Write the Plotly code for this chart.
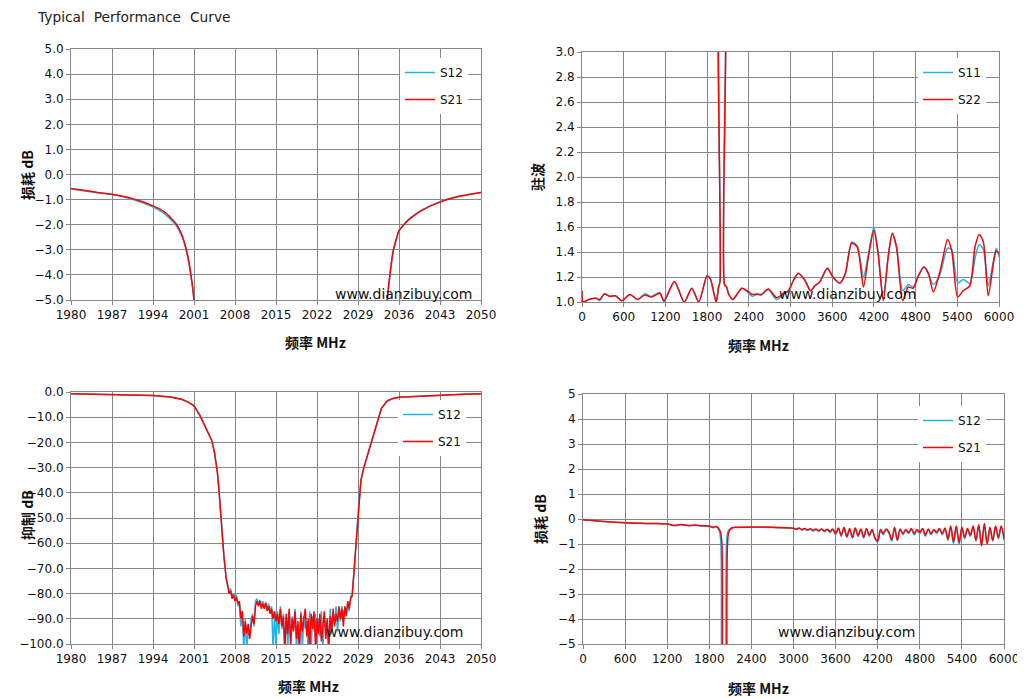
# %%
import plotly.graph_objects as go

# ---- top left: 损耗 near stop band (1980-2050 MHz) ----
tl_freq = [1980, 1983, 1987, 1990, 1994, 1996, 1998, 1999, 1999.5, 2000, 2000.5, 2001, 2001.3,
           None,
           2033.8, 2034, 2034.5, 2035, 2035.5, 2036, 2037, 2038, 2040, 2043, 2046, 2050]
tl_s12 = [-0.58, -0.68, -0.80, -0.96, -1.30, -1.57, -2.05, -2.50, -2.87, -3.37, -4.08, -5.0, -6.5,
          None,
          -6.5, -5.0, -3.92, -3.08, -2.62, -2.24, -1.94, -1.72, -1.40, -1.08, -0.88, -0.72]
tl_s21 = [-0.56, -0.66, -0.79, -0.93, -1.25, -1.50, -1.98, -2.45, -2.82, -3.32, -4.03, -5.0, -6.5,
          None,
          -6.5, -5.0, -3.90, -3.05, -2.60, -2.25, -1.96, -1.74, -1.42, -1.10, -0.89, -0.72]

# ---- top right: 驻波 0-6000 MHz ----
tr_freq = [0, 15, 100, 200, 255, 320, 400, 480, 570, 690, 800, 900, 1000, 1120, 1180, 1330, 1470,
           1580, 1680, 1800, 1850, 1930, 1965, 1985, 1997, 2040, 2050, 2080, 2110, 2170, 2300, 2400,
           2450, 2520, 2580, 2680, 2800, 2900, 2970, 3040, 3110, 3200, 3290, 3350, 3420, 3530, 3610,
           3710, 3790, 3880, 3960, 4050, 4120, 4200, 4260, 4335, 4405, 4465, 4525, 4615, 4695, 4765,
           4840, 4920, 4985, 5055, 5150, 5260, 5320, 5405, 5485, 5580, 5655, 5715, 5775, 5845, 5920,
           5960, 6000]
tr_s22 = [1.09, 1.0, 1.02, 1.03, 1.02, 1.065, 1.045, 1.05, 1.01, 1.06, 1.02, 1.055, 1.04, 1.07, 1.01,
          1.165, 1.0, 1.11, 1.0, 1.21, 1.18, 1.0, 1.12, 1.16, 4.0, 4.0, 1.14, 1.12, 1.06, 1.02, 1.11,
          1.08, 1.06, 1.065, 1.06, 1.105, 1.035, 1.07, 1.09, 1.17, 1.23, 1.18, 1.09, 1.13, 1.16, 1.27,
          1.2, 1.15, 1.23, 1.47, 1.44, 1.12, 1.36, 1.575, 1.39, 1.01, 1.36, 1.55, 1.44, 1.01, 1.12,
          1.11, 1.21, 1.28, 1.23, 1.08, 1.24, 1.5, 1.41, 1.04, 1.09, 1.13, 1.44, 1.54, 1.48, 1.05,
          1.31, 1.41, 1.39]
tr_s11 = [1.09, 1.0, 1.02, 1.03, 1.01, 1.065, 1.045, 1.05, 1.01, 1.06, 1.02, 1.065, 1.045, 1.075, 1.0,
          1.165, 1.0, 1.11, 1.0, 1.21, 1.18, 1.0, 1.12, 1.16, 4.0, 4.0, 1.14, 1.12, 1.07, 1.02, 1.11,
          1.07, 1.045, 1.06, 1.055, 1.1, 1.02, 1.06, 1.085, 1.17, 1.23, 1.18, 1.09, 1.13, 1.16, 1.27,
          1.2, 1.15, 1.23, 1.48, 1.45, 1.2, 1.38, 1.6, 1.4, 1.03, 1.36, 1.55, 1.44, 1.09, 1.14,
          1.12, 1.21, 1.28, 1.22, 1.14, 1.22, 1.43, 1.42, 1.15, 1.18, 1.15, 1.35, 1.46, 1.42, 1.13,
          1.33, 1.43, 1.36]

# ---- bottom left: 抑制 (1980-2050 MHz) ----
bl_freq = [1980, 1987, 1994, 1997, 1999, 2000, 2001, 2002, 2003, 2004, 2004.5, 2005, 2005.3, 2005.7,
           2006.1, 2006.5,
           2006.75, 2007.00, 2007.25, 2007.50, 2007.75, 2008.00, 2008.25, 2008.50,
           2008.75, 2009.00, 2009.25, 2009.50, 2009.75, 2010.00, 2010.25, 2010.50,
           2010.75, 2011.00, 2011.25, 2011.50, 2011.75, 2012.00, 2012.25, 2012.50,
           2012.75, 2013.00, 2013.25, 2013.50, 2013.75, 2014.00, 2014.25, 2014.50,
           2014.75, 2015.00, 2015.25, 2015.50, 2015.75, 2016.00, 2016.25, 2016.50,
           2016.75, 2017.00, 2017.25, 2017.50, 2017.75, 2018.00, 2018.25, 2018.50,
           2018.75, 2019.00, 2019.25, 2019.50, 2019.75, 2020.00, 2020.25, 2020.50,
           2020.75, 2021.00, 2021.25, 2021.50, 2021.75, 2022.00, 2022.25, 2022.50,
           2022.75, 2023.00, 2023.25, 2023.50, 2023.75, 2024.00, 2024.25, 2024.50,
           2024.75, 2025.00, 2025.25, 2025.50, 2025.75, 2026.00, 2026.25, 2026.50,
           2026.75, 2027.00, 2027.25, 2027.50, 2027.75,
           2028, 2028.3, 2028.7, 2029, 2029.5, 2030, 2031, 2032, 2033, 2034, 2035, 2036, 2040, 2043,
           2047, 2050]
bl_s21 = [-0.7, -0.9, -1.35, -2.0, -3.0, -4.0, -5.5, -9.3, -14, -19, -24, -32, -40, -53,
          -65, -74,
          -78, -80, -79, -82, -80.5, -83, -81.5, -84,
          -83, -90, -87, -97, -91, -96, -92, -98,
          -93, -89, -92, -85, -83, -85, -83, -86,
          -84, -86, -83.5, -87, -85, -88, -86, -90,
          -87, -91, -88, -92, -86, -93, -89, -102,
          -88, -96, -86, -101, -90, -95, -87, -98,
          -91, -102, -88, -95, -90, -86, -97, -90,
          -102, -88, -94, -87, -102, -90, -96, -88,
          -99, -92, -87, -98, -90, -102, -89, -95,
          -86, -93, -88, -91, -85, -90, -86, -93,
          -85, -89, -83, -86, -82,
          -81, -72, -58, -49, -35, -30, -22, -14, -6.5, -3.5, -2.6, -2.1, -1.6, -1.2,
          -0.9, -0.7]
bl_s12 = [-0.7, -0.9, -1.35, -2.0, -3.0, -4.0, -5.5, -9.3, -14, -19, -24, -32, -40, -53,
          -65, -74,
          -77, -79, -78, -81, -80, -82, -80.5, -85,
          -84, -93, -88, -102, -90, -102, -94, -97,
          -90, -88, -93, -83, -82, -84, -82.5, -85,
          -83, -85, -84, -86, -84, -87, -85, -102,
          -88, -102, -87, -96, -85, -94, -88, -102,
          -89, -102, -87, -97, -89, -94, -86, -102,
          -92, -102, -87, -102, -89, -94, -91, -102,
          -87, -102, -89, -95, -88, -102, -90, -97,
          -87, -102, -89, -94, -91, -102, -86, -96,
          -88, -92, -85, -95, -87, -91, -85, -89,
          -86, -88, -84, -87, -81,
          -81, -72, -58, -49, -35, -30, -22, -14, -6.5, -3.5, -2.6, -2.1, -1.6, -1.2,
          -0.9, -0.7]

# ---- bottom right: 损耗 0-6000 MHz ----
br_freq_s21 = [0, 300, 600, 900, 1200, 1300, 1400, 1500, 1600, 1700, 1800, 1850, 1900, 1950, 1975,
               1990, 2000, 2040, 2048, 2060, 2080, 2120, 2200, 2400, 2700, 2960]
br_s21_low = [-0.03, -0.1, -0.15, -0.18, -0.2, -0.25, -0.22, -0.26, -0.24, -0.27, -0.28, -0.33, -0.3,
              -0.45, -0.8, -5.5, -6, -6, -5.5, -1.0, -0.5, -0.36, -0.33, -0.32, -0.33, -0.36]
br_freq_s12 = [0, 300, 600, 900, 1200, 1300, 1400, 1500, 1600, 1700, 1800, 1850, 1900, 1940, 1962,
               1976, 1990, 2025, 2034, 2046, 2066, 2110, 2200, 2400, 2700, 2960]
br_s12_low = [-0.03, -0.1, -0.15, -0.18, -0.2, -0.27, -0.23, -0.27, -0.25, -0.28, -0.3, -0.35, -0.31,
              -0.47, -0.85, -5.5, -6, -6, -5.5, -1.0, -0.5, -0.37, -0.34, -0.33, -0.34, -0.37]
br_freq_hi = [3000, 3040, 3080, 3120, 3160, 3200, 3240, 3280, 3320, 3360, 3400, 3440, 3480, 3520, 3560,
              3600, 3640, 3680, 3720, 3760, 3800, 3840, 3880, 3920, 3960, 4000, 4040, 4080, 4120, 4160,
              4200, 4240, 4280, 4320, 4360, 4400, 4440, 4480, 4520, 4560, 4600, 4640, 4680, 4720, 4760,
              4800, 4840, 4880, 4920, 4960, 5000, 5040, 5080, 5120, 5160, 5200, 5240, 5280, 5320, 5360,
              5400, 5440, 5480, 5520, 5560, 5600, 5640, 5680, 5720, 5760, 5800, 5840, 5880, 5920, 5960,
              6000]
br_s21_hi = [-0.37, -0.40, -0.36, -0.42, -0.38, -0.44, -0.39, -0.45, -0.40, -0.46, -0.40, -0.47, -0.41, -0.49, -0.40,
             -0.58, -0.36, -0.64, -0.34, -0.70, -0.38, -0.74, -0.36, -0.66, -0.40, -0.72, -0.38, -0.64, -0.42, -0.74,
             -0.88, -0.42, -0.58, -0.40, -0.52, -0.82, -0.33, -0.84, -0.40, -0.58, -0.42, -0.54, -0.38, -0.58, -0.42,
             -0.52, -0.38, -0.64, -0.40, -0.58, -0.42, -0.52, -0.38, -0.58, -0.36, -0.80, -0.28, -0.90, -0.28, -0.94,
             -0.33, -0.74, -0.38, -0.64, -0.28, -0.84, -0.23, -1.08, -0.18, -1.0, -0.33, -0.84, -0.28, -0.74, -0.28,
             -0.80]
br_s12_hi = [-0.38, -0.42, -0.38, -0.44, -0.40, -0.46, -0.41, -0.48, -0.42, -0.50, -0.42, -0.51, -0.44, -0.54, -0.44,
             -0.63, -0.40, -0.70, -0.36, -0.74, -0.43, -0.76, -0.40, -0.70, -0.43, -0.76, -0.41, -0.69, -0.46, -0.79,
             -0.93, -0.48, -0.63, -0.43, -0.58, -0.88, -0.38, -0.86, -0.43, -0.63, -0.46, -0.58, -0.43, -0.63, -0.48,
             -0.58, -0.40, -0.69, -0.43, -0.63, -0.46, -0.58, -0.43, -0.63, -0.40, -0.86, -0.33, -0.99, -0.36, -1.03,
             -0.38, -0.79, -0.43, -0.69, -0.33, -0.89, -0.28, -1.03, -0.28, -0.94, -0.38, -0.89, -0.33, -0.79, -0.33,
             -0.85]

BLUE = "#1EB4EC"
RED = "#FF0000"
GRID = "#868686"
W, H = 1025, 698
OFF = 8  # the page body margin shifts the figure by this many pixels


def px_x(p):
    return (p - OFF) / W


def px_y(p):
    return 1 - (p - OFF) / H


fig = go.Figure()

# blue first, red on top
fig.add_trace(go.Scatter(x=tl_freq, y=tl_s12, name="S12", line=dict(color=BLUE, width=1.5, shape="spline", smoothing=0.6),
                         xaxis="x", yaxis="y", legend="legend", legendgroup="a"))
fig.add_trace(go.Scatter(x=tl_freq, y=tl_s21, name="S21", line=dict(color=RED, width=1.5, shape="spline", smoothing=0.6),
                         xaxis="x", yaxis="y", legend="legend", legendgroup="b"))

fig.add_trace(go.Scatter(x=tr_freq, y=tr_s11, name="S11", line=dict(color=BLUE, width=1.5, shape="spline", smoothing=0.7),
                         xaxis="x2", yaxis="y2", legend="legend2", legendgroup="c"))
fig.add_trace(go.Scatter(x=tr_freq, y=tr_s22, name="S22", line=dict(color=RED, width=1.5, shape="spline", smoothing=0.7),
                         xaxis="x2", yaxis="y2", legend="legend2", legendgroup="d"))

fig.add_trace(go.Scatter(x=bl_freq, y=bl_s12, name="S12", line=dict(color=BLUE, width=1.5),
                         xaxis="x3", yaxis="y3", legend="legend3", legendgroup="e"))
fig.add_trace(go.Scatter(x=bl_freq, y=bl_s21, name="S21", line=dict(color=RED, width=1.5),
                         xaxis="x3", yaxis="y3", legend="legend3", legendgroup="f"))

fig.add_trace(go.Scatter(x=br_freq_s12 + br_freq_hi, y=br_s12_low + br_s12_hi, name="S12",
                         line=dict(color=BLUE, width=1.5, shape="spline", smoothing=1.0),
                         xaxis="x4", yaxis="y4", legend="legend4", legendgroup="g"))
fig.add_trace(go.Scatter(x=br_freq_s21 + br_freq_hi, y=br_s21_low + br_s21_hi, name="S21",
                         line=dict(color=RED, width=1.5, shape="spline", smoothing=1.0),
                         xaxis="x4", yaxis="y4", legend="legend4", legendgroup="h"))

tick_font = dict(family="DejaVu Sans", size=12, color="#111111")
axis_common = dict(showgrid=True, gridcolor=GRID, gridwidth=1, showline=True, linecolor=GRID, linewidth=1,
                   mirror=True, ticks="outside", ticklen=4, tickcolor=GRID, tickfont=tick_font, zeroline=False,
                   automargin=False)

fig.update_layout(
    width=W, height=H,
    margin=dict(l=0, r=0, t=0, b=0),
    paper_bgcolor="white", plot_bgcolor="white",
    showlegend=True,
    xaxis=dict(domain=[px_x(71), px_x(481)], range=[1980, 2050], tick0=1980, dtick=7, anchor="y", **axis_common),
    yaxis=dict(domain=[px_y(300), px_y(49)], range=[-5, 5], dtick=1, tickformat=".1f", anchor="x", **axis_common),
    xaxis2=dict(domain=[px_x(582), px_x(999)], range=[0, 6000], dtick=600, anchor="y2", **axis_common),
    yaxis2=dict(domain=[px_y(302), px_y(52)], range=[1, 3], dtick=0.2, tickformat=".1f", anchor="x2", **axis_common),
    xaxis3=dict(domain=[px_x(71), px_x(481)], range=[1980, 2050], tick0=1980, dtick=7, anchor="y3", **axis_common),
    yaxis3=dict(domain=[px_y(644), px_y(392)], range=[-100, 0], dtick=10, tickformat=".1f", anchor="x3", **axis_common),
    xaxis4=dict(domain=[px_x(583), px_x(1004)], range=[0, 6000], dtick=600, anchor="y4", **axis_common),
    yaxis4=dict(domain=[px_y(644), px_y(394)], range=[-5, 5], dtick=1, anchor="x4", **axis_common),
)

leg_common = dict(bgcolor="white", borderwidth=0, font=dict(family="DejaVu Sans", size=12, color="#111111"),
                  tracegroupgap=8, xanchor="left", yanchor="top", itemwidth=30)
fig.update_layout(
    legend=dict(x=px_x(400), y=px_y(58), **leg_common),
    legend2=dict(x=px_x(918), y=px_y(58), **leg_common),
    legend3=dict(x=px_x(398), y=px_y(400), **leg_common),
    legend4=dict(x=px_x(918), y=px_y(406), **leg_common),
)

cjk = "Noto Sans CJK SC"
notes = [
    # title
    dict(text="Typical\u00a0 Performance\u00a0 Curve", x=px_x(35), y=px_y(17), xanchor="left",
         font=dict(family="DejaVu Sans", size=13.8, color="#222222")),
    # watermarks
    dict(text="www.dianzibuy.com", x=px_x(403), y=px_y(294), font=dict(family="DejaVu Sans", size=14, color="#111111")),
    dict(text="www.dianzibuy.com", x=px_x(918), y=px_y(294), font=dict(family="DejaVu Sans", size=14, color="#111111")),
    dict(text="www.dianzibuy.com", x=px_x(394), y=px_y(632), font=dict(family="DejaVu Sans", size=14, color="#111111")),
    dict(text="www.dianzibuy.com", x=px_x(917), y=px_y(632), font=dict(family="DejaVu Sans", size=14, color="#111111")),
    # axis titles
    dict(text="<b>损耗 dB</b>", x=px_x(15), y=px_y(175), textangle=-90, font=dict(family=cjk, size=14, color="#111111")),
    dict(text="<b>驻波</b>", x=px_x(537), y=px_y(177), textangle=-90, font=dict(family=cjk, size=14, color="#111111")),
    dict(text="<b>抑制 dB</b>", x=px_x(15), y=px_y(515), textangle=-90, font=dict(family=cjk, size=14, color="#111111")),
    dict(text="<b>损耗 dB</b>", x=px_x(540), y=px_y(519), textangle=-90, font=dict(family=cjk, size=14, color="#111111")),
    dict(text="<b>频率 MHz</b>", x=px_x(283), y=px_y(342), font=dict(family=cjk, size=14, color="#111111")),
    dict(text="<b>频率 MHz</b>", x=px_x(791), y=px_y(345), font=dict(family=cjk, size=14, color="#111111")),
    dict(text="<b>频率 MHz</b>", x=px_x(276), y=px_y(686), font=dict(family=cjk, size=14, color="#111111")),
    dict(text="<b>频率 MHz</b>", x=px_x(791), y=px_y(688), font=dict(family=cjk, size=14, color="#111111")),
]
for n in notes:
    fig.add_annotation(xref="paper", yref="paper", showarrow=False, yanchor="middle", **n)

fig.write_html("out.html")
